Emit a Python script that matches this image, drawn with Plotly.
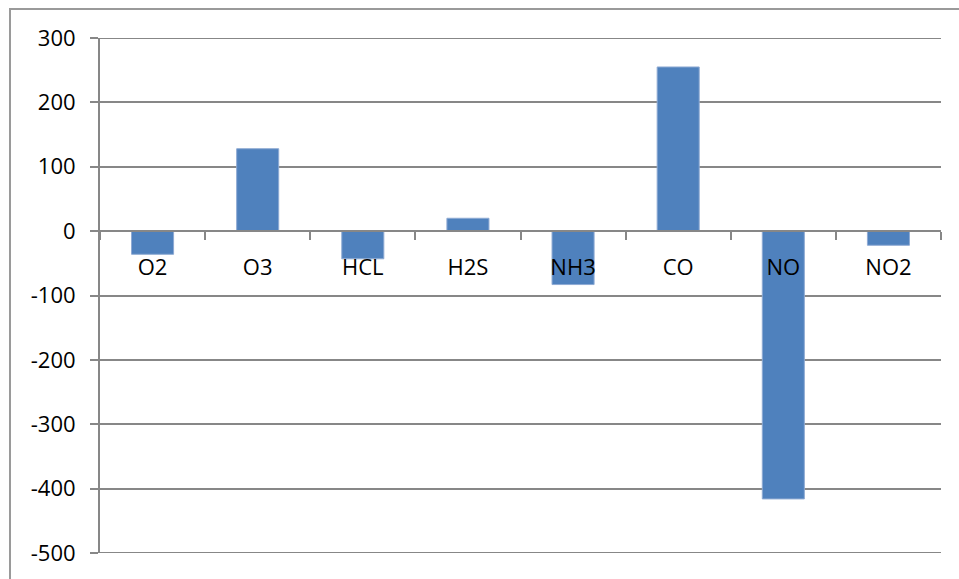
import plotly.graph_objects as go

# Gas concentration change per species
gases = ["O2", "O3", "HCL", "H2S", "NH3", "CO", "NO", "NO2"]
change = [-36, 128, -43, 20, -83, 255, -416, -22]

y_ticks = [300, 200, 100, 0, -100, -200, -300, -400, -500]

W, H = 959, 579
L, R, T, B = 100, 18, 38, 24
plot_w, plot_h = W - L - R, H - T - B
y_min, y_max = min(y_ticks), max(y_ticks)
zero_frac = (0 - y_min) / (y_max - y_min)

GRID = "#878787"
FRAME = "#9a9a9a"
FONT = "Open Sans, Liberation Sans, Arial, sans-serif"

fig = go.Figure(
    go.Bar(
        x=gases,
        y=change,
        marker=dict(color="#4F81BD", line=dict(color="#8EAAD3", width=1)),
        hoverinfo="x+y",
    )
)

fig.update_layout(
    width=W,
    height=H,
    margin=dict(l=L, r=R, t=T, b=B, pad=0),
    paper_bgcolor="white",
    plot_bgcolor="white",
    showlegend=False,
    bargap=0.6,
    font=dict(family=FONT, size=22, color="black"),
    xaxis=dict(
        type="category",
        anchor="free",
        position=zero_frac,
        showline=True,
        linecolor=GRID,
        linewidth=2,
        ticks="outside",
        tickson="boundaries",
        ticklen=8,
        tickwidth=2,
        tickcolor=GRID,
        showgrid=False,
        ticklabelstandoff=16,
        tickfont=dict(family=FONT, size=22, color="black"),
        layer="above traces",
    ),
    yaxis=dict(
        range=[y_min, y_max],
        tickvals=y_ticks,
        ticktext=[str(v) for v in y_ticks],
        showgrid=True,
        gridcolor=GRID,
        gridwidth=2,
        zeroline=False,
        showline=True,
        linecolor=GRID,
        linewidth=2,
        ticks="outside",
        ticklen=8,
        tickwidth=2,
        tickcolor=GRID,
        ticklabelstandoff=10,
        tickfont=dict(family=FONT, size=22, color="black"),
    ),
)

# Gridlines at the top and bottom of the value range
for yv in (y_max, y_min):
    fig.add_shape(
        type="line",
        xref="paper",
        yref="y",
        x0=0,
        x1=1,
        y0=yv,
        y1=yv,
        line=dict(color=GRID, width=2),
        layer="below",
    )

# Outer chart frame
fig.add_shape(
    type="rect",
    xref="paper",
    yref="paper",
    x0=(10 - L) / plot_w,
    x1=1.2,
    y0=-0.2,
    y1=1 + (T - 9) / plot_h,
    line=dict(color=FRAME, width=2),
    fillcolor="rgba(0,0,0,0)",
    layer="below",
)

fig.write_html("out.html")
